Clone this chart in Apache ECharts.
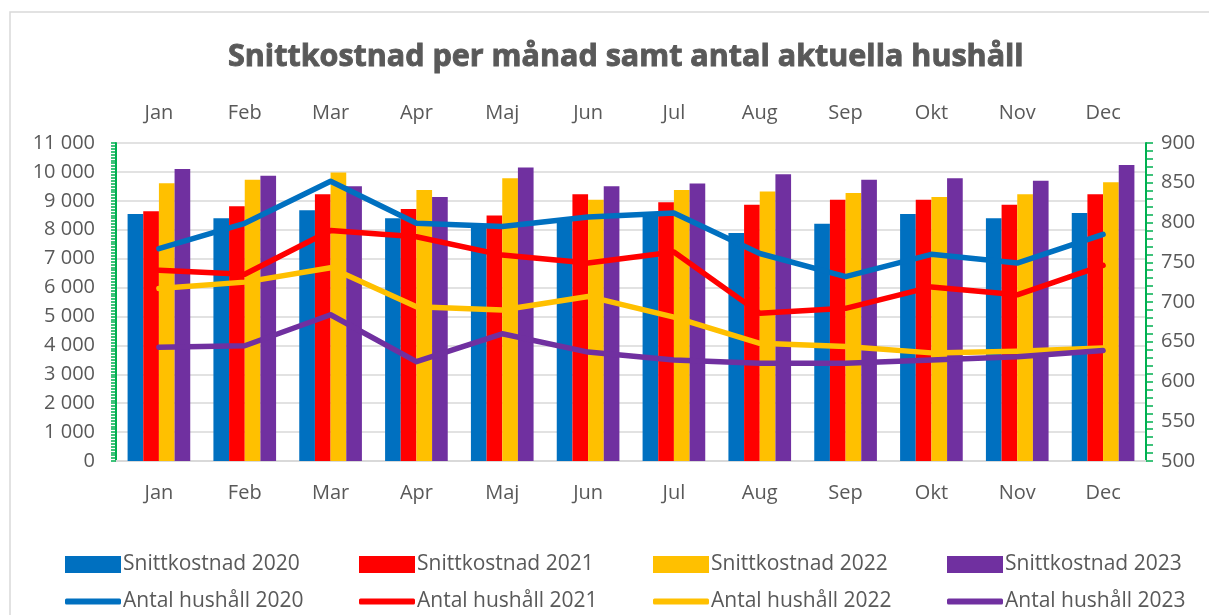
<!DOCTYPE html>
<html>
<head>
<meta charset="utf-8">
<script src="https://cdn.jsdelivr.net/npm/echarts@6/dist/echarts.min.js"></script>
<style>
html,body{margin:0;padding:0;background:#fff;}
#main{width:1209px;height:615px;}
</style>
</head>
<body>
<div id="main"></div>
<script>
const months = ['Jan','Feb','Mar','Apr','Maj','Jun','Jul','Aug','Sep','Okt','Nov','Dec'];
const cost2020 = [8540, 8400, 8670, 8400, 8150, 8300, 8550, 7890, 8210, 8540, 8400, 8580];
const cost2021 = [8640, 8810, 9230, 8720, 8490, 9230, 8950, 8860, 9040, 9040, 8860, 9230];
const cost2022 = [9610, 9730, 9980, 9370, 9780, 9040, 9370, 9320, 9270, 9130, 9230, 9640];
const cost2023 = [10100, 9870, 9500, 9130, 10150, 9500, 9600, 9920, 9730, 9780, 9690, 10240];
const hh2020 = [767, 799, 852, 799, 795, 807, 812, 761, 732, 760, 749, 785];
const hh2021 = [740, 735, 790, 782, 759, 749, 763, 686, 692, 719, 709, 746];
const hh2022 = [717, 725, 743, 694, 690, 707, 681, 648, 644, 636, 638, 642];
const hh2023 = [643, 645, 684, 625, 660, 637, 627, 623, 623, 627, 631, 639];
const leftTicks = [0, 11000, 1000];
const rightTicks = [500, 900, 50];

const colors = ['#0070C0', '#FF0000', '#FFC000', '#7030A0'];
const years = ['2020', '2021', '2022', '2023'];
const costs = [cost2020, cost2021, cost2022, cost2023];
const hhs = [hh2020, hh2021, hh2022, hh2023];
const FONT = 'Open Sans';
const TXT = '#595959';

const fmt = v => String(v).replace(/\B(?=(\d{3})+(?!\d))/g, ' ');

const series = [];
const legends = [];
const colX = [65, 359, 653, 947];
years.forEach((y, i) => {
  series.push({
    name: 'Snittkostnad ' + y, type: 'bar', xAxisIndex: 0, yAxisIndex: 0,
    data: costs[i], itemStyle: { color: colors[i] },
    barGap: '0%', barCategoryGap: '27%'
  });
});
years.forEach((y, i) => {
  series.push({
    name: 'Antal hushåll ' + y, type: 'line', xAxisIndex: 0, yAxisIndex: 1,
    data: hhs[i], symbol: 'none', z: 5,
    lineStyle: { color: colors[i], width: 5.5, cap: 'round', join: 'round' },
    itemStyle: { color: colors[i] }
  });
});
years.forEach((y, i) => {
  legends.push({
    left: colX[i], top: 554, itemWidth: 56, itemHeight: 17, icon: 'rect',
    data: ['Snittkostnad ' + y], itemGap: 0, padding: 0,
    textStyle: { fontFamily: FONT, fontSize: 21, color: TXT, padding: [0, 0, 0, -3] },
    selectedMode: false
  });
  legends.push({
    left: colX[i], top: 591, itemWidth: 56, itemHeight: 6, icon: 'roundRect',
    data: ['Antal hushåll ' + y], itemGap: 0, padding: 0,
    textStyle: { fontFamily: FONT, fontSize: 21, color: TXT, padding: [0, 0, 0, -3] },
    selectedMode: false
  });
});

const chart = echarts.init(document.getElementById('main'), null, { renderer: 'canvas' });
chart.setOption({
  animation: false,
  backgroundColor: '#ffffff',
  graphic: [{
    type: 'rect', shape: { x: 10, y: 12, width: 1400, height: 800 },
    style: { fill: 'none', stroke: '#D9D9D9', lineWidth: 1.5 }, silent: true, z: -1
  }],
  title: {
    text: 'Snittkostnad per månad samt antal aktuella hushåll',
    left: 223, top: 37,
    textStyle: { fontFamily: FONT, fontSize: 30.5, fontWeight: 'bold', color: TXT,
      textBorderColor: TXT, textBorderWidth: 0.9 }
  },
  legend: legends,
  grid: { left: 116, right: 63, top: 143, bottom: 154 },
  xAxis: [{
    type: 'category', data: months, position: 'bottom',
    axisLine: { show: true, lineStyle: { color: '#D9D9D9', width: 2 } },
    axisTick: { show: false },
    axisLabel: { fontFamily: FONT, fontSize: 20, color: TXT, margin: 22 }
  }, {
    type: 'category', data: months, position: 'top',
    axisLine: { show: false }, axisTick: { show: false },
    axisLabel: { fontFamily: FONT, fontSize: 20, color: TXT, margin: 20 }
  }],
  yAxis: [{
    type: 'value', min: leftTicks[0], max: leftTicks[1], interval: leftTicks[2],
    position: 'left',
    axisLine: { show: true, lineStyle: { color: '#00B050', width: 2 } },
    axisTick: { show: true, length: 5, lineStyle: { color: '#00B050', width: 1.5 } },
    minorTick: { show: true, splitNumber: 10, length: 5, lineStyle: { color: '#00B050', width: 1.5 } },
    splitLine: { show: true, lineStyle: { color: '#D9D9D9', width: 1.5 } },
    axisLabel: { fontFamily: FONT, fontSize: 20, color: TXT, margin: 21, formatter: fmt }
  }, {
    type: 'value', min: rightTicks[0], max: rightTicks[1], interval: rightTicks[2],
    position: 'right',
    axisLine: { show: true, lineStyle: { color: '#00B050', width: 2 } },
    axisTick: { show: true, length: 7, lineStyle: { color: '#00B050', width: 1.5 } },
    minorTick: { show: true, splitNumber: 5, length: 7, lineStyle: { color: '#00B050', width: 1.5 } },
    splitLine: { show: false },
    axisLabel: { fontFamily: FONT, fontSize: 20, color: TXT, margin: 15 }
  }],
  series: series
});
</script>
</body>
</html>
